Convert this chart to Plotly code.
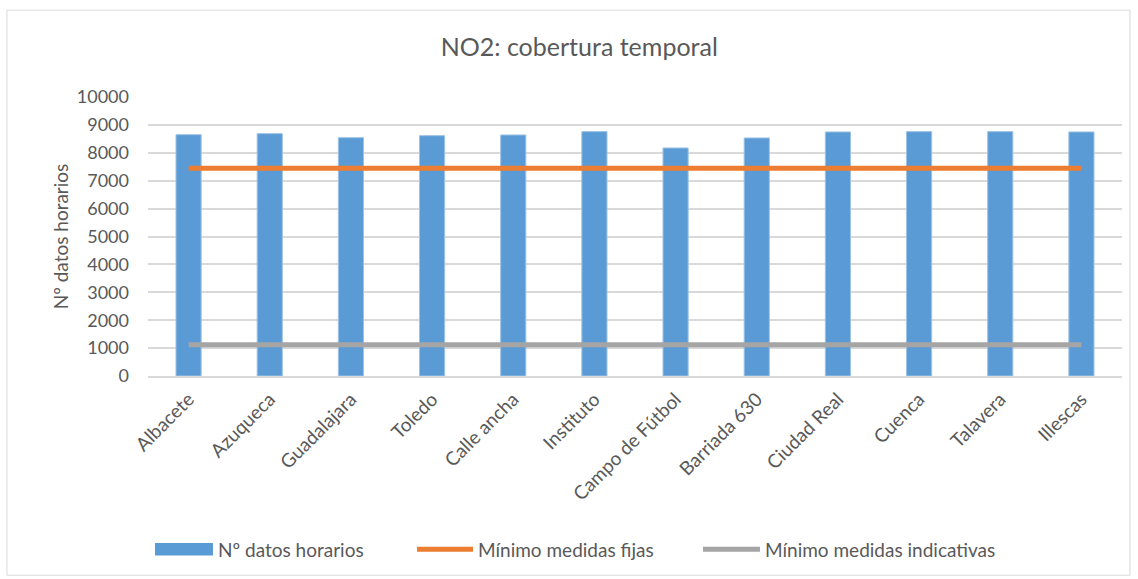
import plotly.graph_objects as go

estaciones = ["Albacete", "Azuqueca", "Guadalajara", "Toledo", "Calle ancha", "Instituto",
              "Campo de Fútbol", "Barriada 630", "Ciudad Real", "Cuenca", "Talavera", "Illescas"]
datos_horarios = [8650, 8687, 8543, 8615, 8640, 8759, 8173, 8532, 8748, 8759, 8759, 8748]
minimo_fijas = [7446] * 12
minimo_indicativas = [1120] * 12
nombres = ["Nº datos horarios", "Mínimo medidas fijas", "Mínimo medidas indicativas"]
colores = ["#5B9BD5", "#ED7D31", "#A5A5A5"]

font = "Lato, 'Open Sans', sans-serif"
gris_texto = "#595959"

fig = go.Figure()
fig.add_trace(go.Bar(x=estaciones, y=datos_horarios, name=nombres[0],
                     marker=dict(color=colores[0], line=dict(color="#9DC3E6", width=1))))
fig.add_trace(go.Scatter(x=estaciones, y=minimo_fijas, name=nombres[1],
                         mode="lines", line=dict(color=colores[1], width=5)))
fig.add_trace(go.Scatter(x=estaciones, y=minimo_indicativas, name=nombres[2],
                         mode="lines", line=dict(color=colores[2], width=5)))

# leyenda dibujada a mano (como en Excel: rectángulo ancho y líneas)
ly = -0.621
shapes = [
    dict(type="rect", xref="paper", yref="paper", x0=-0.1448, x1=1.0082, y0=-0.714, y1=1.311,
         line=dict(color="#D9D9D9", width=1), layer="below"),
    dict(type="rect", xref="paper", yref="paper", x0=0.0072, x1=0.0667, y0=ly - 0.022, y1=ly + 0.022,
         fillcolor=colores[0], line=dict(width=0)),
    dict(type="line", xref="paper", yref="paper", x0=0.2762, x1=0.3337, y0=ly, y1=ly,
         line=dict(color=colores[1], width=5)),
    dict(type="line", xref="paper", yref="paper", x0=0.5698, x1=0.6283, y0=ly, y1=ly,
         line=dict(color=colores[2], width=5)),
]
annotations = [
    dict(text=t, xref="paper", yref="paper", x=x, y=ly, xanchor="left", yanchor="middle",
         showarrow=False, font=dict(size=19, color=gris_texto, family=font))
    for t, x in zip(nombres, [0.0698, 0.3368, 0.6314])
]

fig.update_layout(
    width=1138, height=579,
    paper_bgcolor="white", plot_bgcolor="white",
    font=dict(family=font, color=gris_texto, size=14),
    title=dict(text="NO2: cobertura temporal", x=0.509, xanchor="center", y=0.919, yanchor="middle",
               font=dict(size=25, color=gris_texto, family=font)),
    margin=dict(l=148, r=16, t=97, b=203),
    bargap=0.69,
    showlegend=False,
    xaxis=dict(tickangle=-45, showgrid=False, showline=True, linecolor="#D9D9D9", linewidth=1.5,
               tickfont=dict(size=19, color=gris_texto), ticks="", ticklabelstandoff=3),
    yaxis=dict(range=[0, 10000], dtick=1000, tickformat="d", showgrid=True, gridcolor="#D9D9D9",
               gridwidth=1.5, zeroline=False, tickfont=dict(size=18, color=gris_texto), ticks="",
               ticklabelstandoff=18,
               title=dict(text="Nº datos horarios", font=dict(size=19, color=gris_texto), standoff=3)),
    shapes=shapes,
    annotations=annotations,
)

fig.write_html("out.html", config={"displayModeBar": False},
               post_script="document.body.style.margin='0px';")
